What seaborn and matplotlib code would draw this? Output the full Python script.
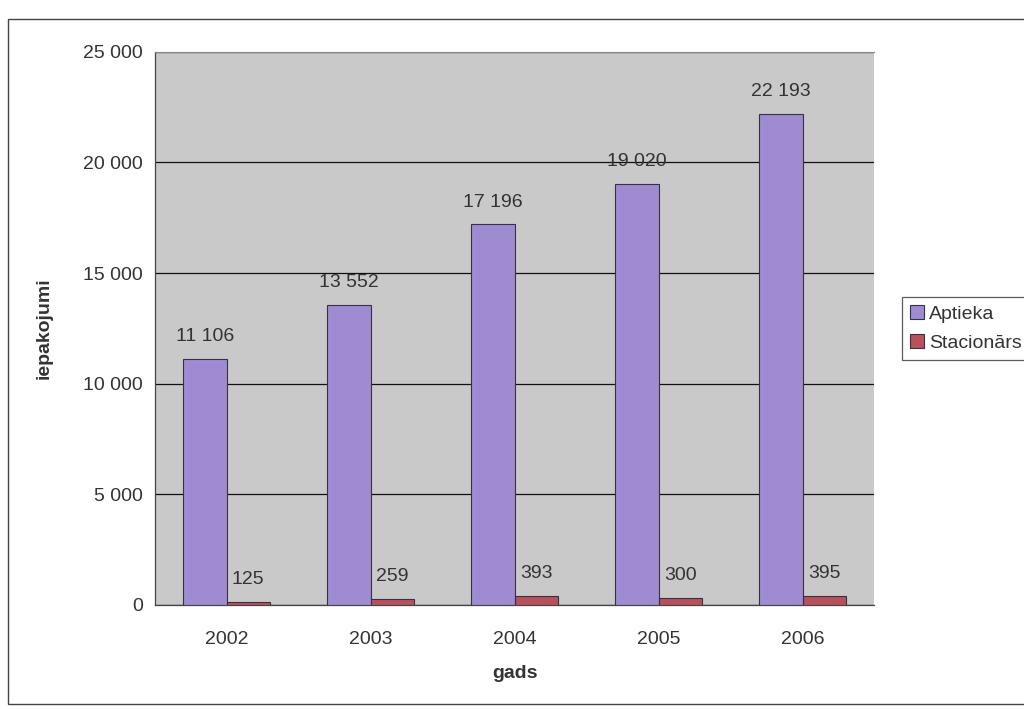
import matplotlib
matplotlib.use("Agg")
import matplotlib.pyplot as plt
import seaborn as sns
import pandas as pd
from matplotlib.ticker import FuncFormatter

years = ["2002", "2003", "2004", "2005", "2006"]
aptieka = [11106, 13552, 17196, 19020, 22193]
stacionars = [125, 259, 393, 300, 395]
series_names = ["Aptieka", "Stacionārs"]
colors = ["#9A80DC", "#C8404E"]

df = pd.DataFrame({
    "gads": years * 2,
    "iepakojumi": aptieka + stacionars,
    "sērija": [series_names[0]] * len(years) + [series_names[1]] * len(years),
})

sns.set_theme(style="white")
plt.rcParams["font.family"] = ["Liberation Sans", "DejaVu Sans"]

fig = plt.figure(figsize=(10.24, 7.10), dpi=100)
ax = fig.add_axes([0.151, 0.148, 0.703, 0.779])
ax.set_facecolor("#C9C9C9")

sns.barplot(data=df, x="gads", y="iepakojumi", hue="sērija", palette=colors,
            width=0.6, edgecolor="#333344", linewidth=0.8, ax=ax, zorder=3)

ax.set_ylim(0, 25000)
ax.set_yticks(range(0, 25001, 5000))
ax.yaxis.set_major_formatter(FuncFormatter(lambda v, p: f"{int(v):,}".replace(",", " ")))
ax.grid(axis="y", color="#111111", linewidth=0.9, zorder=1)
ax.set_axisbelow(True)

ax.spines["right"].set_visible(False)
ax.spines["top"].set_color("#888888")
ax.spines["top"].set_linewidth(0.8)
for spine in ["left", "bottom"]:
    ax.spines[spine].set_color("#444444")
    ax.spines[spine].set_linewidth(0.9)

ax.tick_params(axis="both", which="both", length=5, color="#444444",
               labelsize=14, labelcolor="#333333", direction="out")
ax.tick_params(axis="x", pad=14)
ax.set_xlabel("gads", fontsize=14, fontweight="bold", color="#333333", labelpad=12)
ax.set_ylabel("iepakojumi", fontsize=14, fontweight="bold", color="#333333", labelpad=22)

for container in ax.containers:
    ax.bar_label(container, labels=[f"{int(v):,}".replace(",", " ") for v in container.datavalues],
                 padding=10, fontsize=14, color="#333333")

leg = ax.legend(loc="center left", bbox_to_anchor=(1.025, 0.5), frameon=True,
                fontsize=14, handlelength=0.7, handleheight=0.7, handletextpad=0.3,
                borderpad=0.4, labelspacing=0.6, fancybox=False, edgecolor="#333333",
                labelcolor="#333333")
leg.get_frame().set_linewidth(0.9)

# outer chart border
fig.add_artist(plt.Rectangle((0.008, 0.008), 1.0, 0.965, transform=fig.transFigure,
                             fill=False, edgecolor="#444444", linewidth=1.0))

fig.savefig("out.png", dpi=100)
